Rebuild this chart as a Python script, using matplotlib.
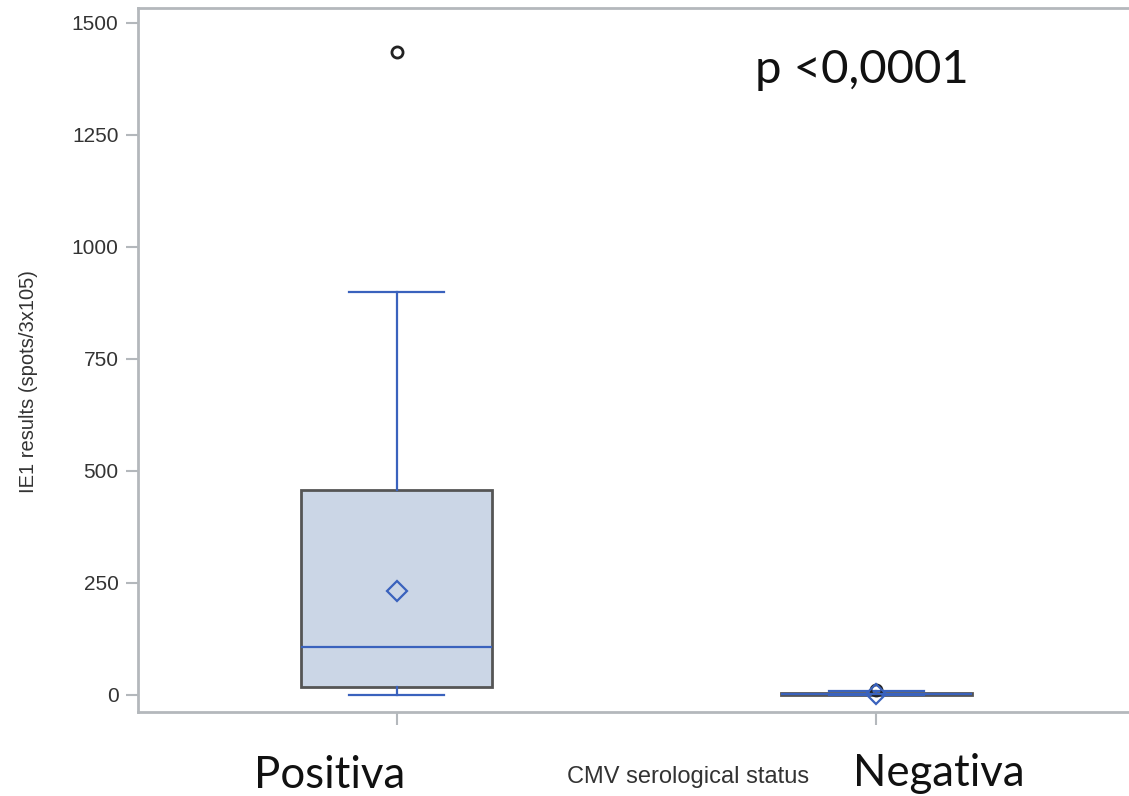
import matplotlib
matplotlib.use("Agg")
import matplotlib.pyplot as plt

# data
groups = ["Positiva", "Negativa"]
whisker_low = [0, 0]
q1 = [18, 1]
median = [107, 2]
q3 = [457, 4]
whisker_high = [900, 8]
means = [232, 3]
outliers = [[1435], [12]]

yticks = [0, 250, 500, 750, 1000, 1250, 1500]

blue = "#3a62bd"
fill = "#cbd6e6"
grey = "#b4b8bc"

stats = []
for i, g in enumerate(groups):
    stats.append({
        "label": g,
        "whislo": whisker_low[i],
        "q1": q1[i],
        "med": median[i],
        "q3": q3[i],
        "whishi": whisker_high[i],
        "mean": means[i],
        "fliers": outliers[i],
    })

fig = plt.figure(figsize=(11.29, 7.96), dpi=100)
ax = fig.add_axes([0.1222, 0.1055, 0.8831, 0.8845])

ax.bxp(
    stats,
    positions=[1, 2],
    widths=0.398,
    capwidths=0.198,
    patch_artist=True,
    showmeans=True,
    boxprops=dict(facecolor=fill, edgecolor="#555555", linewidth=2),
    whiskerprops=dict(color=blue, linewidth=1.6),
    capprops=dict(color=blue, linewidth=1.6),
    medianprops=dict(color=blue, linewidth=1.6),
    meanprops=dict(marker="D", markerfacecolor="none", markeredgecolor=blue,
                   markersize=10, markeredgewidth=1.6),
    flierprops=dict(marker="o", markerfacecolor="none", markeredgecolor="#222222",
                    markersize=8, markeredgewidth=2),
)

ax.set_xlim(0.46, 2.54)
ax.set_ylim(-38, 1533)
ax.set_yticks(yticks)
ax.set_yticklabels([str(t) for t in yticks], fontsize=15, color="#333333",
                   family="Liberation Sans")
ax.set_xticks([1, 2])
ax.set_xticklabels(["", ""])
ax.tick_params(axis="both", color=grey, length=9, width=1.5, pad=5)

for side in ["left", "bottom", "top"]:
    ax.spines[side].set_color(grey)
    ax.spines[side].set_linewidth(2)
ax.spines["right"].set_visible(False)

ax.set_ylabel("IE1 results (spots/3x105)", fontsize=14.5, color="#333333",
              family="Liberation Sans")
ax.yaxis.set_label_coords(-0.1003, 0.469)

fig.text(330 / 1129, 1 - 775 / 796, "Positiva", fontsize=31.5, family="Lato",
         ha="center", va="center", color="#111111")
fig.text(939 / 1129, 1 - 773 / 796, "Negativa", fontsize=31.5, family="Lato",
         ha="center", va="center", color="#111111")
fig.text(688 / 1129, 1 - 777 / 796, "CMV serological status", fontsize=17,
         family="Liberation Sans", ha="center", va="center", color="#333333")
fig.text(862 / 1129, 1 - 70 / 796, "p <0,0001", fontsize=34, family="Lato",
         ha="center", va="center", color="#111111")

plt.savefig("out.png", dpi=100)
